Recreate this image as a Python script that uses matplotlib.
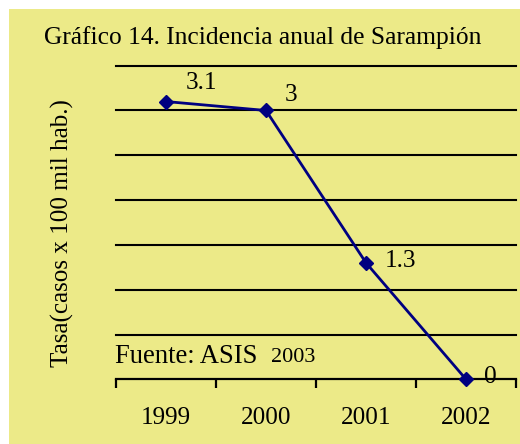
import matplotlib
matplotlib.use("Agg")
import matplotlib.pyplot as plt
from matplotlib.patches import Rectangle

years = ["1999", "2000", "2001", "2002"]
rates = [3.1, 3.0, 1.3, 0.0]
value_labels = ["3.1", "3", "1.3", "0"]
title = "Gráfico 14. Incidencia anual de Sarampión"
ylabel = "Tasa(casos x 100 mil hab.)"
source = "Fuente: ASIS"
source_year = "2003"

plt.rcParams['font.family'] = ['Liberation Serif', 'DejaVu Serif']

W, H = 520, 444
fig = plt.figure(figsize=(W / 100, H / 100), dpi=100, facecolor='white')
bg = '#ECEA88'
fig.patches.append(Rectangle((9 / W, 0), 1 - 9 / W, 1 - 9 / H, transform=fig.transFigure,
                             facecolor=bg, edgecolor='none', zorder=-10))

ax = fig.add_axes([116 / W, (H - 379.3) / H, 400 / W, (379.3 - 65.7) / H])
ax.set_facecolor('none')

x = list(range(len(years)))
ax.plot(x, rates, color='#000080', lw=2.0, marker='D', markersize=7.2,
        markerfacecolor='#000080', markeredgecolor='#000080', zorder=5, clip_on=False)

offsets = [(14.0, 13), (13.5, 11.5), (13.5, 1), (13.2, 1.5)]
for xi, yi, lab, off in zip(x, rates, value_labels, offsets):
    ax.annotate(lab, (xi, yi), xytext=off, textcoords='offset points',
                ha='left', va='center', fontsize=18.2, color='black', zorder=6)

ax.set_xlim(-0.5, len(years) - 0.5)
ax.set_ylim(0, 3.5)
ax.set_yticks([0.5 * i for i in range(1, 8)])
ax.yaxis.grid(True, color='black', lw=1.5)
for gl in ax.get_ygridlines():
    gl.set_clip_on(False)
ax.tick_params(axis='y', length=0, labelleft=False)
for s in ['top', 'right', 'left']:
    ax.spines[s].set_visible(False)
ax.spines['bottom'].set_color('black')
ax.spines['bottom'].set_linewidth(1.6)

ax.set_xticks([i - 0.5 for i in range(len(years) + 1)])
ax.set_xticklabels([])
ax.tick_params(axis='x', which='major', length=6.5, width=1.6, color='black', direction='out')
ax.set_xticks(x, minor=True)
ax.set_xticklabels(years, minor=True, fontsize=18.1)
ax.tick_params(axis='x', which='minor', length=0, pad=20)

fig.text(263 / W, 1 - 38 / H, title, ha='center', va='center', fontsize=18.4)
fig.text(62 / W, 1 - 233 / H, ylabel, ha='center', va='center', rotation=90, fontsize=18.1)
fig.text(115 / W, 1 - 363 / H, source, ha='left', va='baseline', fontsize=19.2)
fig.text(271 / W, 1 - 362 / H, source_year, ha='left', va='baseline', fontsize=16)

fig.savefig("out.png", dpi=100, facecolor='white')
